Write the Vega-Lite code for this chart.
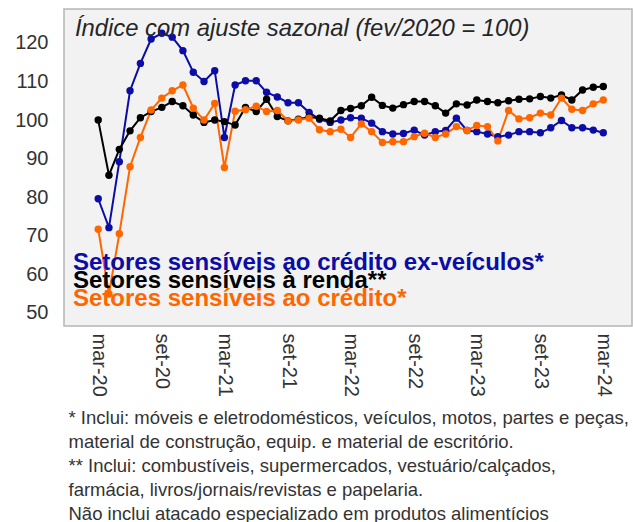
{
  "$schema": "https://vega.github.io/schema/vega-lite/v6.json",
  "width": 568,
  "height": 317,
  "autosize": "none",
  "padding": {"left": 64, "top": 9, "right": 1, "bottom": 196},
  "background": "white",
  "title": {
    "text": "Índice com ajuste sazonal (fev/2020 = 100)",
    "anchor": "start",
    "frame": "group",
    "orient": "top",
    "offset": -51,
    "baseline": "alphabetic",
    "dx": 11,
    "font": "Liberation Sans",
    "fontStyle": "italic",
    "fontWeight": "normal",
    "fontSize": 23.8,
    "color": "#262626"
  },
  "config": {
    "view": {"fill": "#f2f2f2", "stroke": "#b5b5b5", "strokeWidth": 1.5},
    "font": "Liberation Sans",
    "axisX": {"labelOverlap": false, "labelFlush": false, "labelBound": false},
    "axisY": {"labelOverlap": false}
  },
  "datasets": {
    "indices": [
      {"mes": "2020-03-01", "a": 79.6, "b": 100.0, "c": 71.7},
      {"mes": "2020-04-01", "a": 72.1, "b": 85.7, "c": 54.9},
      {"mes": "2020-05-01", "a": 89.2, "b": 92.4, "c": 70.5},
      {"mes": "2020-06-01", "a": 107.6, "b": 97.2, "c": 87.9},
      {"mes": "2020-07-01", "a": 114.7, "b": 100.6, "c": 95.5},
      {"mes": "2020-08-01", "a": 121.0, "b": 102.2, "c": 102.6},
      {"mes": "2020-09-01", "a": 122.5, "b": 103.3, "c": 105.7},
      {"mes": "2020-10-01", "a": 121.5, "b": 104.8, "c": 107.6},
      {"mes": "2020-11-01", "a": 118.0, "b": 103.7, "c": 109.1},
      {"mes": "2020-12-01", "a": 112.4, "b": 101.3, "c": 103.1},
      {"mes": "2021-01-01", "a": 110.0, "b": 99.4, "c": 100.0},
      {"mes": "2021-02-01", "a": 112.8, "b": 100.0, "c": 104.3},
      {"mes": "2021-03-01", "a": 95.5, "b": 99.6, "c": 87.7},
      {"mes": "2021-04-01", "a": 109.1, "b": 98.7, "c": 102.3},
      {"mes": "2021-05-01", "a": 110.2, "b": 103.3, "c": 102.7},
      {"mes": "2021-06-01", "a": 110.2, "b": 102.2, "c": 103.6},
      {"mes": "2021-07-01", "a": 107.2, "b": 105.4, "c": 102.2},
      {"mes": "2021-08-01", "a": 106.0, "b": 100.9, "c": 102.5},
      {"mes": "2021-09-01", "a": 104.5, "b": 99.8, "c": 99.8},
      {"mes": "2021-10-01", "a": 104.5, "b": 100.2, "c": 100.0},
      {"mes": "2021-11-01", "a": 102.0, "b": 100.8, "c": 100.5},
      {"mes": "2021-12-01", "a": 100.2, "b": 100.5, "c": 97.5},
      {"mes": "2022-01-01", "a": 99.4, "b": 99.8, "c": 97.0},
      {"mes": "2022-02-01", "a": 100.0, "b": 102.5, "c": 97.6},
      {"mes": "2022-03-01", "a": 100.6, "b": 103.0, "c": 95.5},
      {"mes": "2022-04-01", "a": 100.5, "b": 103.7, "c": 99.0},
      {"mes": "2022-05-01", "a": 99.2, "b": 105.9, "c": 97.0},
      {"mes": "2022-06-01", "a": 97.0, "b": 103.8, "c": 94.2},
      {"mes": "2022-07-01", "a": 96.4, "b": 103.1, "c": 94.4},
      {"mes": "2022-08-01", "a": 96.5, "b": 104.0, "c": 94.4},
      {"mes": "2022-09-01", "a": 97.4, "b": 104.8, "c": 95.7},
      {"mes": "2022-10-01", "a": 96.1, "b": 104.8, "c": 96.6},
      {"mes": "2022-11-01", "a": 97.0, "b": 103.7, "c": 95.5},
      {"mes": "2022-12-01", "a": 97.3, "b": 101.8, "c": 96.4},
      {"mes": "2023-01-01", "a": 100.5, "b": 104.2, "c": 98.3},
      {"mes": "2023-02-01", "a": 97.3, "b": 103.9, "c": 97.3},
      {"mes": "2023-03-01", "a": 97.0, "b": 105.2, "c": 98.6},
      {"mes": "2023-04-01", "a": 96.4, "b": 104.8, "c": 98.3},
      {"mes": "2023-05-01", "a": 95.7, "b": 104.5, "c": 94.6},
      {"mes": "2023-06-01", "a": 96.1, "b": 105.0, "c": 102.5},
      {"mes": "2023-07-01", "a": 97.0, "b": 105.4, "c": 100.3},
      {"mes": "2023-08-01", "a": 97.0, "b": 105.5, "c": 100.6},
      {"mes": "2023-09-01", "a": 96.7, "b": 106.1, "c": 101.8},
      {"mes": "2023-10-01", "a": 98.0, "b": 105.7, "c": 101.3},
      {"mes": "2023-11-01", "a": 99.9, "b": 106.5, "c": 105.7},
      {"mes": "2023-12-01", "a": 98.0, "b": 105.2, "c": 102.8},
      {"mes": "2024-01-01", "a": 98.0, "b": 107.8, "c": 102.5},
      {"mes": "2024-02-01", "a": 97.4, "b": 108.5, "c": 104.2},
      {"mes": "2024-03-01", "a": 96.7, "b": 108.7, "c": 105.2}
    ],
    "legenda": [
      {"serie": "a", "texto": "Setores sensíveis ao crédito ex-veículos*"},
      {"serie": "b", "texto": "Setores sensíveis à renda**"},
      {"serie": "c", "texto": "Setores sensíveis ao crédito*"}
    ]
  },
  "layer": [
    {
      "data": {"name": "indices"},
      "transform": [{"fold": ["a", "b", "c"], "as": ["serie", "valor"]}],
      "mark": {"type": "line", "strokeWidth": 2, "point": {"filled": true, "size": 55}},
      "encoding": {
        "x": {
          "field": "mes",
          "type": "temporal",
          "scale": {
            "type": "utc",
            "nice": false,
            "domain": [
              {"year": 2019, "month": 11, "date": 23, "utc": true},
              {"year": 2024, "month": 5, "date": 23, "utc": true}
            ]
          },
          "axis": {
            "values": [
              {"year": 2020, "month": 3, "date": 1, "utc": true},
              {"year": 2020, "month": 6, "date": 1, "utc": true},
              {"year": 2020, "month": 9, "date": 1, "utc": true},
              {"year": 2020, "month": 12, "date": 1, "utc": true},
              {"year": 2021, "month": 3, "date": 1, "utc": true},
              {"year": 2021, "month": 6, "date": 1, "utc": true},
              {"year": 2021, "month": 9, "date": 1, "utc": true},
              {"year": 2021, "month": 12, "date": 1, "utc": true},
              {"year": 2022, "month": 3, "date": 1, "utc": true},
              {"year": 2022, "month": 6, "date": 1, "utc": true},
              {"year": 2022, "month": 9, "date": 1, "utc": true},
              {"year": 2022, "month": 12, "date": 1, "utc": true},
              {"year": 2023, "month": 3, "date": 1, "utc": true},
              {"year": 2023, "month": 6, "date": 1, "utc": true},
              {"year": 2023, "month": 9, "date": 1, "utc": true},
              {"year": 2023, "month": 12, "date": 1, "utc": true},
              {"year": 2024, "month": 3, "date": 1, "utc": true}
            ],
            "labelExpr": "['jan','fev','mar','abr','mai','jun','jul','ago','set','out','nov','dez'][utcmonth(datum.value)] + '-' + utcFormat(datum.value, '%y')",
            "labelAngle": 90,
            "labelFontSize": 20,
            "labelColor": "#333333",
            "labelPadding": 7,
            "labelFont": "Liberation Sans",
            "labelOverlap": false,
            "labelFlush": false,
            "ticks": false,
            "domain": false,
            "grid": false,
            "title": [
              "* Inclui: móveis e eletrodomésticos, veículos, motos, partes e peças,",
              "material de construção, equip. e material de escritório.",
              "** Inclui: combustíveis, supermercados, vestuário/calçados,",
              "farmácia, livros/jornais/revistas e papelaria.",
              "Não inclui atacado especializado em produtos alimentícios"
            ],
            "titleAnchor": "start",
            "titleAlign": "left",
            "titleX": 4,
            "titleY": 97,
            "titleBaseline": "alphabetic",
            "titleFont": "Liberation Sans",
            "titleFontSize": 18.5,
            "titleFontWeight": "normal",
            "titleColor": "#333333",
            "titleLineHeight": 24
          }
        },
        "y": {
          "field": "valor",
          "type": "quantitative",
          "scale": {"domain": [46.6, 128.8], "nice": false, "zero": false},
          "axis": {
            "values": [50, 60, 70, 80, 90, 100, 110, 120],
            "title": null,
            "grid": false,
            "ticks": false,
            "domain": false,
            "labelFontSize": 20,
            "labelColor": "#333333",
            "labelFont": "Liberation Sans",
            "labelPadding": 16
          }
        },
        "color": {
          "field": "serie",
          "type": "nominal",
          "scale": {"domain": ["a", "b", "c"], "range": ["#0C0CA6", "#000000", "#FF6600"]},
          "legend": null
        }
      }
    },
    {
      "data": {"name": "legenda"},
      "transform": [{"filter": "datum.serie == 'a'"}],
      "mark": {"type": "text", "align": "left", "baseline": "alphabetic", "fontSize": 24, "fontWeight": "bold", "font": "Liberation Sans", "dy": 0},
      "encoding": {
        "x": {"datum": {"year": 2019, "month": 12, "date": 19, "utc": true}, "type": "temporal"},
        "y": {"datum": 61.15, "type": "quantitative"},
        "text": {"field": "texto"},
        "color": {"field": "serie", "type": "nominal", "legend": null}
      }
    },
    {
      "data": {"name": "legenda"},
      "transform": [{"filter": "datum.serie == 'b'"}],
      "mark": {"type": "text", "align": "left", "baseline": "alphabetic", "fontSize": 24, "fontWeight": "bold", "font": "Liberation Sans", "dy": 18.3},
      "encoding": {
        "x": {"datum": {"year": 2019, "month": 12, "date": 19, "utc": true}, "type": "temporal"},
        "y": {"datum": 61.15, "type": "quantitative"},
        "text": {"field": "texto"},
        "color": {"field": "serie", "type": "nominal", "legend": null}
      }
    },
    {
      "data": {"name": "legenda"},
      "transform": [{"filter": "datum.serie == 'c'"}],
      "mark": {"type": "text", "align": "left", "baseline": "alphabetic", "fontSize": 24, "fontWeight": "bold", "font": "Liberation Sans", "dy": 36.6},
      "encoding": {
        "x": {"datum": {"year": 2019, "month": 12, "date": 19, "utc": true}, "type": "temporal"},
        "y": {"datum": 61.15, "type": "quantitative"},
        "text": {"field": "texto"},
        "color": {"field": "serie", "type": "nominal", "legend": null}
      }
    }
  ]
}
